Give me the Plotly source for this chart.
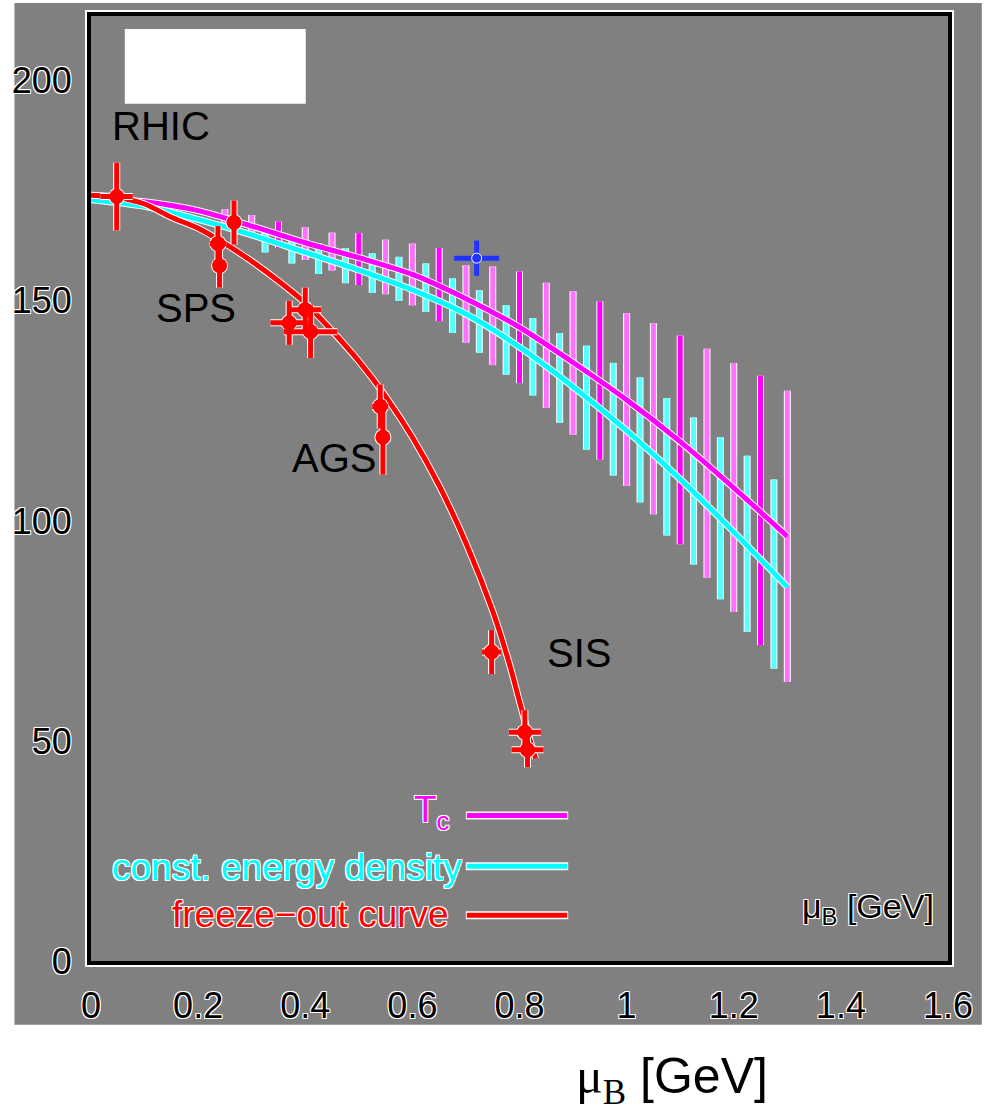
import plotly.graph_objects as go

# ---------------- data ----------------
# freeze-out curve (red line)
fo_curve_mu = [0, 0.05, 0.1, 0.15, 0.2, 0.25, 0.3, 0.35, 0.4, 0.45, 0.5, 0.55,
               0.6, 0.65, 0.7, 0.75, 0.78, 0.8, 0.82, 0.83]
fo_curve_T = [174, 173.5, 172, 169, 166.5, 163, 159, 154.5, 149.5, 143.2, 136.3, 128.3,
              119, 108, 95, 79.5, 68, 59, 50, 46]

# freeze-out data points (RHIC, SPS, AGS, SIS)
fo_mu = [0.048, 0.237, 0.240, 0.267, 0.370, 0.400, 0.410, 0.540, 0.545, 0.748, 0.810, 0.815]
fo_T = [173.7, 163, 158, 167.8, 145, 148, 143, 126, 119, 70.2, 52, 48]
fo_dT = [7.7, 4, 5, 5, 5, 5, 6, 5, 8.5, 5, 5, 4]
fo_dmu = [0.03, 0.015, 0.01, 0.01, 0.035, 0.03, 0.05, 0.015, 0.01, 0.018, 0.03, 0.03]

# Tc curve (magenta)
tc_mu = [0, 0.1, 0.2, 0.3, 0.4, 0.5, 0.6, 0.7, 0.8, 0.9, 1.0, 1.1, 1.2, 1.3]
tc_T = [173.5, 172.5, 170.5, 167, 163.2, 159.8, 156, 150.5, 144, 136, 127.5, 118, 107.5, 96.5]

# const. energy density curve (cyan)
ed_mu = [0, 0.1, 0.2, 0.3, 0.4, 0.5, 0.6, 0.7, 0.8, 0.9, 1.0, 1.1, 1.2, 1.3]
ed_T = [173, 171.5, 168.5, 165, 161, 157, 152.5, 147, 139.5, 130.5, 120.5, 109.5, 97.5, 85]

# Tc uncertainty bars (magenta)
tcbar_mu = [0.25, 0.30, 0.35, 0.40, 0.45, 0.50, 0.55, 0.60, 0.65, 0.70, 0.75, 0.80,
            0.85, 0.90, 0.95, 1.00, 1.05, 1.10, 1.15, 1.20, 1.25, 1.30]
tcbar_T = [168.8, 167, 165, 163, 161.2, 159.5, 157.7, 156, 153.7, 149.3, 146.6, 144,
           139.9, 135.9, 131.9, 127.6, 123.2, 118.4, 113.1, 107.6, 102.4, 96.5]
tcbar_dT = [2, 2.5, 3, 3.7, 4.3, 5.9, 6.2, 7, 8.3, 8.8, 11.2, 12.7,
            14.2, 16.3, 18, 19.6, 21.7, 23.7, 26, 28.3, 30.6, 33.1]

# energy-density uncertainty bars (cyan)
edbar_mu = [0.325, 0.375, 0.425, 0.475, 0.525, 0.575, 0.625, 0.675, 0.725, 0.775,
            0.825, 0.875, 0.925, 0.975, 1.025, 1.075, 1.125, 1.175, 1.225, 1.275]
edbar_T = [163.5, 161.5, 159.6, 158, 156.3, 155, 153, 148.9, 145.3, 141.1,
           137.3, 132.5, 128, 123.1, 118.4, 112.3, 106.8, 100.6, 94.8, 87.9]
edbar_dT = [2.5, 3, 3.5, 4, 4.5, 5, 5.5, 6.2, 7.1, 7.9,
            8.8, 10.2, 11.8, 12.8, 14.2, 15.6, 16.7, 18.4, 20, 21.5]

# single blue point
blue_mu = [0.72]
blue_T = [159.7]
blue_dmu = [0.042]
blue_dT = [4]

x_ticks = [0, 0.2, 0.4, 0.6, 0.8, 1.0, 1.2, 1.4, 1.6]
x_ticktext = ["0", "0.2", "0.4", "0.6", "0.8", "1", "1.2", "1.4", "1.6"]
y_ticks = [0, 50, 100, 150, 200]
y_ticktext = ["0", "50", "100", "150", "200"]

labels = ["RHIC", "SPS", "AGS", "SIS"]

# ---------------- layout geometry ----------------
W, H = 985, 1114
L, R, TOP, BOT = 89, 951, 13, 961


def px(x):
    return (x - L) / (R - L)


def py(y):
    return (BOT - y) / (BOT - TOP)


GRAY = "#808080"
RED = "#ff0000"
MAG = "#ff00ff"
CYAN = "#00ffff"
OUTLINE = ("1px 1px 0px #ffffff, -1px -1px 0px #ffffff, "
           "1px -1px 0px #ffffff, -1px 1px 0px #ffffff")

fig = go.Figure()


def bars(mu, T, dT, color, thick, name):
    fig.add_trace(go.Scatter(
        x=mu, y=T, mode="markers", marker=dict(size=1, opacity=0),
        error_y=dict(type="data", array=dT, thickness=thick, width=0, color=color),
        showlegend=False, hoverinfo="skip", name=name))


# magenta bars: halo, then solid / lighter alternation
bars(tcbar_mu, tcbar_T, tcbar_dT, "#ffffff", 7, "tc halo")
idx_solid = [i for i in range(len(tcbar_mu)) if i % 3 == 2]
idx_light = [i for i in range(len(tcbar_mu)) if i % 3 != 2]
bars([tcbar_mu[i] for i in idx_light], [tcbar_T[i] for i in idx_light],
     [tcbar_dT[i] for i in idx_light], "#ff70ff", 5, "tc light")
bars([tcbar_mu[i] for i in idx_solid], [tcbar_T[i] for i in idx_solid],
     [tcbar_dT[i] for i in idx_solid], MAG, 5, "tc solid")
# cyan bars
bars(edbar_mu, edbar_T, edbar_dT, "#ffffff", 7, "ed halo")
bars(edbar_mu, edbar_T, edbar_dT, "#55ffff", 5, "ed bars")

# curves with white halo
for mu, T, col in [(tc_mu, tc_T, MAG), (ed_mu, ed_T, CYAN)]:
    fig.add_trace(go.Scatter(x=mu, y=T, mode="lines",
                             line=dict(color="#ffffff", width=7, shape="spline", smoothing=0.8),
                             showlegend=False, hoverinfo="skip"))
    fig.add_trace(go.Scatter(x=mu, y=T, mode="lines",
                             line=dict(color=col, width=5, shape="spline", smoothing=0.8),
                             showlegend=False, hoverinfo="skip"))

fig.add_trace(go.Scatter(x=fo_curve_mu, y=fo_curve_T, mode="lines",
                         line=dict(color="#ffffff", width=7, shape="spline", smoothing=0.8),
                         showlegend=False, hoverinfo="skip"))
fig.add_trace(go.Scatter(x=fo_curve_mu, y=fo_curve_T, mode="lines",
                         line=dict(color=RED, width=5, shape="spline", smoothing=0.8),
                         showlegend=False, hoverinfo="skip"))

# freeze-out points
fig.add_trace(go.Scatter(
    x=fo_mu, y=fo_T, mode="markers",
    marker=dict(size=17, color="#ffffff"),
    error_y=dict(type="data", array=fo_dT, thickness=7, width=0, color="#ffffff"),
    error_x=dict(type="data", array=fo_dmu, thickness=7, width=0, color="#ffffff"),
    showlegend=False, hoverinfo="skip"))
fig.add_trace(go.Scatter(
    x=fo_mu, y=fo_T, mode="markers",
    marker=dict(size=15, color=RED),
    error_y=dict(type="data", array=fo_dT, thickness=5, width=0, color=RED),
    error_x=dict(type="data", array=fo_dmu, thickness=5, width=0, color=RED),
    showlegend=False, hoverinfo="skip"))

# blue point
fig.add_trace(go.Scatter(
    x=blue_mu, y=blue_T, mode="markers",
    marker=dict(size=10, color="#2233ff", line=dict(color="#ffffff", width=1)),
    error_y=dict(type="data", array=blue_dT, thickness=5, width=0, color="#2233ff"),
    error_x=dict(type="data", array=blue_dmu, thickness=5, width=0, color="#2233ff"),
    showlegend=False, hoverinfo="skip"))

shapes = [
    # gray backdrop of the scanned figure
    dict(type="rect", xref="paper", yref="paper", x0=px(12), x1=px(985), y0=py(1025), y1=py(0),
         fillcolor=GRAY, line=dict(width=0), layer="below"),
    # white halo round the frame
    dict(type="rect", xref="paper", yref="paper", x0=px(84), x1=px(956), y0=py(966), y1=py(8),
         fillcolor="rgba(0,0,0,0)", line=dict(color="#ffffff", width=2), layer="below"),
    # white box at top
    dict(type="rect", xref="paper", yref="paper", x0=px(123), x1=px(305), y0=py(101), y1=py(26),
         fillcolor="#ffffff", line=dict(width=0), layer="above"),
]
for yl, col in [(815, MAG), (866, CYAN), (915, RED)]:
    shapes.append(dict(type="line", xref="paper", yref="paper", x0=px(466), x1=px(569),
                       y0=py(yl), y1=py(yl), line=dict(color="#ffffff", width=8), layer="above"))
    shapes.append(dict(type="line", xref="paper", yref="paper", x0=px(467), x1=px(568),
                       y0=py(yl), y1=py(yl), line=dict(color=col, width=5), layer="above"))

annotations = []
lab_pos = [(159, 123), (194.5, 306), (333, 456), (580, 652)]
for t, (ax_, ay_) in zip(labels, lab_pos):
    annotations.append(dict(text=t, xref="paper", yref="paper", x=px(ax_), y=py(ay_),
                            xanchor="center", yanchor="middle", showarrow=False,
                            font=dict(family="Liberation Sans", size=40, color="black")))

leg = [("T<sub>c</sub>", MAG, 452, 812),
       ("const. energy density", CYAN, 464, 867),
       ("freeze\u2212out curve", RED, 451, 914)]
for t, col, xr, yc in leg:
    annotations.append(dict(text=t, xref="paper", yref="paper", x=px(xr), y=py(yc),
                            xanchor="right", yanchor="middle", showarrow=False,
                            font=dict(family="Liberation Sans", size=37, color=col, shadow=OUTLINE)))

annotations.append(dict(text="\u03bc<sub>B</sub> [GeV]", xref="paper", yref="paper",
                        x=px(939), y=py(908), xanchor="right", yanchor="middle", showarrow=False,
                        font=dict(family="Liberation Sans", size=34, color="black", shadow=OUTLINE)))

annotations.append(dict(
    text="<span style='font-family:Liberation Serif'>\u03bc<sub>B</sub></span> [GeV]",
    xref="paper", yref="paper", x=px(673), y=py(1080), xanchor="center", yanchor="middle",
    showarrow=False, font=dict(family="Liberation Sans", size=50, color="black")))

tickfont = dict(family="Liberation Sans", size=36, color="black", shadow=OUTLINE)

fig.update_layout(
    width=W, height=H, autosize=False,
    margin=dict(l=L, r=W - R, t=TOP, b=H - BOT, pad=0),
    paper_bgcolor="#ffffff", plot_bgcolor=GRAY,
    showlegend=False,
    shapes=shapes, annotations=annotations,
    xaxis=dict(range=[0, 1.6], tickvals=x_ticks, ticktext=x_ticktext, showgrid=False,
               zeroline=False, showline=True, mirror=True, linecolor="black", linewidth=4,
               ticks="", tickfont=tickfont, ticklabelstandoff=10),
    yaxis=dict(range=[0, (BOT - TOP) / 4.415], tickvals=y_ticks, ticktext=y_ticktext,
               showgrid=False, zeroline=False, showline=True, mirror=True, linecolor="black",
               linewidth=4, ticks="", tickfont=tickfont, ticklabelstandoff=8),
)

fig.write_html("out.html", config={"displayModeBar": False},
               post_script="document.body.style.margin='0';document.body.style.overflow='hidden';")
